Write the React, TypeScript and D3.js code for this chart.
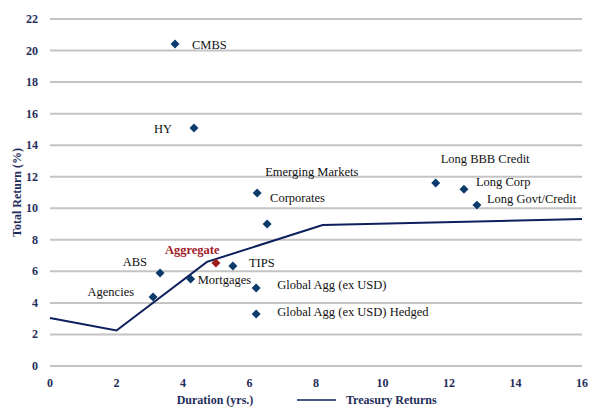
import React, { useEffect, useRef } from 'react'
import * as d3 from 'd3'

// sectors: duration (yrs) vs total return (%)
const names = ['CMBS', 'HY', 'Emerging Markets', 'Corporates', 'ABS', 'Agencies', 'Mortgages', 'Aggregate', 'TIPS',
  'Global Agg (ex USD)', 'Global Agg (ex USD) Hedged', 'Long BBB Credit', 'Long Corp', 'Long Govt/Credit']
const durations = [3.76, 4.33, 6.23, 6.53, 3.31, 3.1, 4.23, 4.99, 5.5, 6.2, 6.2, 11.6, 12.45, 12.84]
const returns = [20.42, 15.09, 10.97, 9.0, 5.9, 4.38, 5.52, 6.53, 6.34, 4.95, 3.3, 11.6, 11.2, 10.2]

// treasury curve
const tsyDur = [0, 2, 4.72, 8.2, 16]
const tsyRet = [3.04, 2.25, 6.6, 8.94, 9.32]

const xTicks = [0, 2, 4, 6, 8, 10, 12, 14, 16]
const yTicks = [0, 2, 4, 6, 8, 10, 12, 14, 16, 18, 20, 22]

// label offsets relative to the marker (dx, dy, anchor)
const labelPos: [number, number, string][] = [
  [17, 1, 'start'], [-22, 1, 'end'], [8, -21, 'start'], [3, -26, 'start'], [-13, -11, 'end'],
  [-19, -5, 'end'], [7, 1, 'start'], [-51, -13, 'start'], [16, -3, 'start'], [21, -3, 'start'],
  [21, -2, 'start'], [5, -24, 'start'], [12, -7, 'start'], [10, -6, 'start']
]

const App = () => {
  const svgRef = useRef<SVGSVGElement>(null)

  useEffect(() => {
    const width = 589
    const height = 408
    const marginLeft = 50
    const marginRight = 7
    const marginTop = 19
    const marginBottom = 42
    const navy = '#1f2d5c'

    const svg = d3.select(svgRef.current)
    svg.selectAll('*').remove()

    const x = d3.scaleLinear([0, 16], [marginLeft, width - marginRight])
    const y = d3.scaleLinear([0, 22], [height - marginBottom, marginTop])

    // grid lines
    svg.append('g')
      .selectAll('line')
      .data(yTicks)
      .join('line')
      .attr('x1', x(0))
      .attr('x2', x(16))
      .attr('y1', d => y(d))
      .attr('y2', d => y(d))
      .attr('stroke', '#c4c4c4')
      .attr('stroke-width', 2)

    const tickFont = "'Liberation Serif', 'Times New Roman', 'DejaVu Serif', serif"

    svg.append('g')
      .selectAll('text')
      .data(yTicks)
      .join('text')
      .attr('x', 38)
      .attr('y', d => y(d) + 4)
      .attr('text-anchor', 'end')
      .style('font-family', tickFont)
      .attr('font-weight', 'bold')
      .attr('font-size', 12)
      .attr('fill', navy)
      .text(d => d)

    svg.append('g')
      .selectAll('text')
      .data(xTicks)
      .join('text')
      .attr('x', d => x(d))
      .attr('y', 387)
      .attr('text-anchor', 'middle')
      .style('font-family', tickFont)
      .attr('font-weight', 'bold')
      .attr('font-size', 12)
      .attr('fill', navy)
      .text(d => d)

    // axis titles
    svg.append('text')
      .attr('transform', `translate(21,${y(11)}) rotate(-90)`)
      .attr('text-anchor', 'middle')
      .style('font-family', tickFont)
      .attr('font-weight', 'bold')
      .attr('font-size', 12)
      .attr('fill', navy)
      .text('Total Return (%)')

    svg.append('text')
      .attr('x', 215)
      .attr('y', 404)
      .attr('text-anchor', 'middle')
      .style('font-family', tickFont)
      .attr('font-weight', 'bold')
      .attr('font-size', 12)
      .attr('fill', navy)
      .text('Duration (yrs.)')

    // legend
    svg.append('line')
      .attr('x1', 297).attr('x2', 336)
      .attr('y1', 400).attr('y2', 400)
      .attr('stroke', '#0d1f5c')
      .attr('stroke-width', 1.5)
    svg.append('text')
      .attr('x', 346)
      .attr('y', 404)
      .style('font-family', tickFont)
      .attr('font-weight', 'bold')
      .attr('font-size', 12)
      .attr('fill', navy)
      .text('Treasury Returns')

    // treasury line
    const line = d3.line<number>()
      .x((d, i) => x(tsyDur[i]))
      .y(d => y(d))
    svg.append('path')
      .attr('fill', 'none')
      .attr('stroke', '#0d1f5c')
      .attr('stroke-width', 2)
      .attr('d', line(tsyRet))

    // markers
    const pts = names.map((n, i) => ({ name: n, dx: durations[i], ret: returns[i], pos: labelPos[i] }))
    const diamond = d3.symbol(d3.symbolSquare, 40)
    svg.append('g')
      .selectAll('path')
      .data(pts)
      .join('path')
      .attr('d', diamond())
      .attr('transform', d => `translate(${x(d.dx)},${y(d.ret)}) rotate(45)`)
      .attr('fill', d => d.name === 'Aggregate' ? '#9b1b1b' : '#0b3a6b')

    svg.append('g')
      .selectAll('text')
      .data(pts)
      .join('text')
      .attr('x', d => x(d.dx) + d.pos[0])
      .attr('y', d => y(d.ret) + d.pos[1] + 4)
      .attr('text-anchor', d => d.pos[2])
      .style('font-family', tickFont)
      .attr('font-size', 12.5)
      .attr('font-weight', d => d.name === 'Aggregate' ? 'bold' : 'normal')
      .attr('fill', d => d.name === 'Aggregate' ? '#a3202a' : '#111')
      .text(d => d.name)
  }, [])

  return (
    <svg ref={svgRef} width={589} height={408} style={{ position: 'absolute', left: 0, top: 0, background: '#fff' }} />
  )
}

export default App
